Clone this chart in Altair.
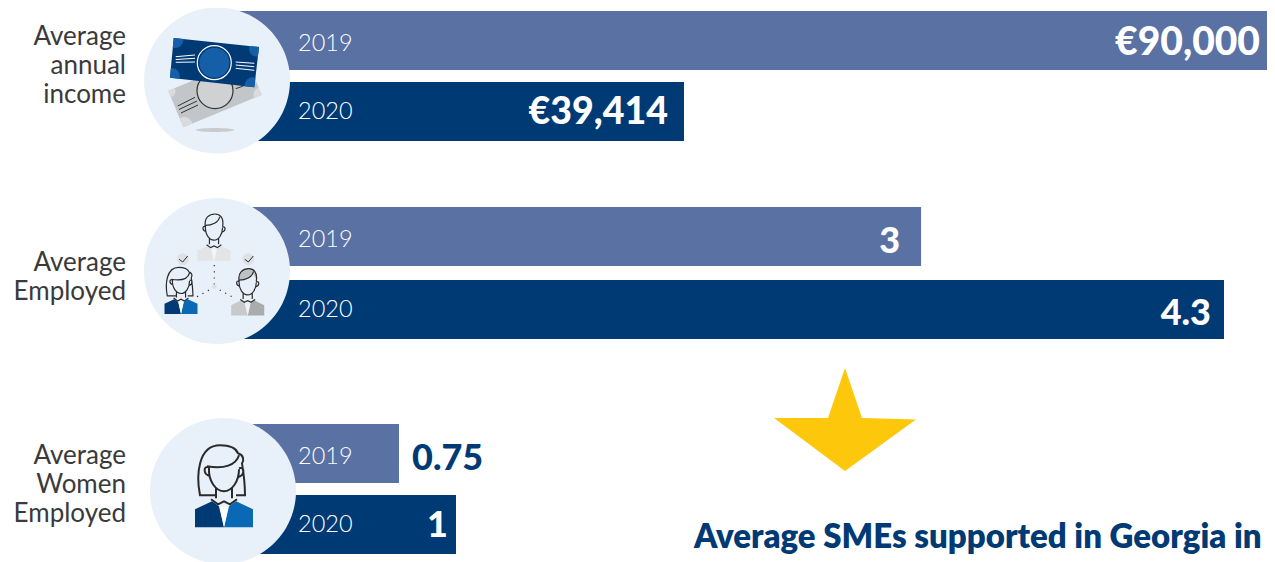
import altair as alt

FONT = "Lato"
NAVY = "#003a75"
SLATE = "#5a71a3"
INK = "#3a3a3a"
DARK = "#2b2b2b"
BLUE = "#0a69b5"

# ---- data
years = ["2019", "2020"]
income_values = [90000, 39414]
income_labels = ["€90,000", "€39,414"]
employed_values = [3, 4.3]
employed_labels = ["3", "4.3"]
women_values = [0.75, 1]
women_labels = ["0.75", "1"]
group_names = [["Average", "annual", "income"], ["Average", "Employed"], ["Average", "Women", "Employed"]]
caption = "Average SMEs supported in Georgia in"

# ---- layout of each group (pixels inside the chart)
GROUPS = [
    dict(values=income_values, labels=income_labels, dom=90000, xr=[215.5, 1267], yr=[3, 133],
         pad=12 / 71, dx=[-15, -16], dy=[2, 1], align=["right", "right"], size=[39, 37.5], col=["white", "white"]),
    dict(values=employed_values, labels=employed_labels, dom=4.3, xr=[214, 1216], yr=[199, 331],
         pad=14 / 73, dx=[-21, -13], dy=[5, 4], align=["right", "right"], size=[36, 36], col=["white", "white"]),
    dict(values=women_values, labels=women_labels, dom=1, xr=[220, 448], yr=[416, 546],
         pad=12 / 71, dx=[13, -8], dy=[5, 1], align=["left", "right"], size=[36, 36], col=[NAVY, "white"]),
]
YEAR_DY = [3, 0]


def group_layer(g):
    xs = alt.Scale(domain=[0, g["dom"]], range=g["xr"], nice=False, zero=True)
    ys = alt.Scale(domain=years, range=g["yr"], paddingInner=g["pad"], paddingOuter=0)
    rows = [dict(year=y, value=v, label=l) for y, v, l in zip(years, g["values"], g["labels"])]
    data = alt.Data(values=rows)
    X = alt.X("value:Q", scale=xs, axis=None, stack=None)
    Y = alt.Y("year:N", scale=ys, axis=None)
    bars = alt.Chart(data).mark_bar().encode(
        x=X, y=Y,
        color=alt.Color("year:N", scale=alt.Scale(domain=years, range=[SLATE, NAVY]), legend=None),
    )
    parts = [bars]
    for i in range(2):
        one = alt.Data(values=[rows[i]])
        parts.append(
            alt.Chart(one).mark_text(
                align="left", baseline="middle", font=FONT, fontSize=23.5, fontWeight=300,
                color="white", dy=YEAR_DY[i],
            ).encode(x=alt.value(290), y=Y, text="year:N")
        )
        parts.append(
            alt.Chart(one).mark_text(
                align=g["align"][i], baseline="middle", font=FONT, fontWeight=900,
                fontSize=g["size"][i], color=g["col"][i], dx=g["dx"][i], dy=g["dy"][i],
            ).encode(x=X, y=Y, text="label:N")
        )
    return alt.layer(*parts)


# ---- decoration helpers: paths are written in picture pixels
deco = []


def add(d, fill=None, stroke=None, sw=1.4, dash=None):
    deco.append((d, fill, stroke, sw, dash))


def ellipse(cx, cy, rx, ry=None):
    ry = rx if ry is None else ry
    return f"M{cx-rx},{cy}A{rx},{ry} 0 1 0 {cx+rx},{cy}A{rx},{ry} 0 1 0 {cx-rx},{cy}Z"


def poly(*pts, close=True):
    s = "M" + "L".join(f"{x},{y}" for x, y in pts)
    return s + ("Z" if close else "")


def corner(p, a, b, r):
    def unit(q):
        dx, dy = q[0] - p[0], q[1] - p[1]
        n = (dx * dx + dy * dy) ** 0.5
        return dx / n * r, dy / n * r
    u, v = unit(a), unit(b)
    return (f"M{p[0]},{p[1]}L{p[0]+u[0]},{p[1]+u[1]}"
            f"Q{p[0]+u[0]+v[0]},{p[1]+u[1]+v[1]} {p[0]+v[0]},{p[1]+v[1]}Z")


def scaled(template, cx, t, k):
    # template is a list of path commands with relative coordinates
    out = ""
    for cmd, *pts in template:
        out += cmd + " ".join(f"{cx+x*k:.2f},{t+y*k:.2f}" for x, y in pts)
    return out


FACE = [("M", (-15, 22)), ("C", (-16, 36), (-8, 46), (0, 46)), ("C", (8, 46), (15, 36), (15, 24))]
EARS = [("M", (-15, 22)), ("C", (-21, 20), (-21, 29), (-14, 31)),
        ("M", (15, 23)), ("C", (21, 21), (21, 30), (14, 32))]
NECK = [("M", (-8, 43)), ("L", (-8, 53)), ("M", (8, 43)), ("L", (8, 53)),
        ("M", (-13, 54)), ("L", (-6, 59)), ("L", (0, 56)), ("L", (6, 59)), ("L", (13, 54))]
COAT_L = [("M", (-29, 64)), ("L", (-12, 56)), ("L", (-5, 61)), ("L", (0, 82)), ("L", (-29, 82)), ("Z",)]
COAT_R = [("M", (29, 64)), ("L", (12, 56)), ("L", (5, 61)), ("L", (0, 82)), ("L", (29, 82)), ("Z",)]
WOMAN_HAIR = [("M", (-9, 50)), ("L", (-24, 50)), ("C", (-28, 30), (-26, 0), (-4, 0)),
              ("C", (6, 0), (12, 3), (14, 8)), ("C", (20, 10), (20, 15), (18, 18)),
              ("C", (20, 30), (21, 40), (21, 50)), ("L", (12, 50)),
              ("M", (-17, 21)), ("C", (0, 24), (12, 20), (15, 10))]
MAN_HAIR = [("M", (-15, 22)), ("C", (-18, 6), (-8, 0), (2, 0)), ("C", (10, 0), (18, 6), (15, 22)),
            ("M", (-15, 20)), ("C", (-4, 20), (8, 15), (10, 5))]
MAN_HAIR_FILL = [("M", (-15, 20)), ("C", (-18, 6), (-8, 0), (2, 0)), ("C", (10, 0), (18, 6), (15, 20)),
                 ("C", (12, 14), (10, 10), (10, 5)), ("C", (8, 15), (-4, 20), (-15, 20)), ("Z",)]


def person(cx, t, k, hair, cl, cr, sw, hair_fill=None):
    add(scaled(COAT_L, cx, t, k), fill=cl)
    add(scaled(COAT_R, cx, t, k), fill=cr)
    if hair_fill:
        add(scaled(MAN_HAIR_FILL, cx, t, k), fill=hair_fill)
    add(scaled(FACE + EARS + NECK + hair, cx, t, k), stroke=DARK, sw=sw)


# circles behind icons
for c in [(217, 80.5), (217, 271), (223, 491)]:
    add(ellipse(c[0], c[1], 73), fill="#e8f0f9")

# money icon
g = [(168.3, 90.7), (183.3, 127.3), (261.7, 95), (246.7, 58.3)]
add(poly(*g), fill="#c3c6c9")
add(corner(g[0], g[1], g[3], 7), fill="#d9dbdd")
add(corner(g[1], g[0], g[2], 10), fill="#d9dbdd")
add(corner(g[2], g[1], g[3], 8), fill="#d9dbdd")
add(ellipse(215, 90.7, 18), fill="#cfd1d2", stroke="#333333", sw=1.2)
add(poly((177.7, 106), (195, 97.3), close=False) + poly((179, 109.5), (197, 101), close=False)
    + poly((181, 113), (198, 105), close=False) + poly((235.7, 88.7), (243.3, 86), close=False),
    stroke="#333333", sw=1)
b = [(173.7, 38), (259, 47), (254.3, 87.3), (170, 77.7)]
add(poly(*b), fill=NAVY)
for i in range(4):
    add(corner(b[i], b[(i + 1) % 4], b[(i + 3) % 4], 10), fill="#155fa8")
add(ellipse(214.3, 62.7, 17), fill=NAVY, stroke="white", sw=1.2)
add(ellipse(214.3, 62.7, 15), fill="#155fa8")
add(poly((175.7, 56.7), (195, 55), close=False) + poly((175.7, 59.5), (195, 58.3), close=False)
    + poly((175.7, 62.3), (195, 62), close=False) + poly((235.7, 62), (254.3, 63.3), close=False)
    + poly((235.7, 65), (254.3, 66.7), close=False) + poly((235.7, 68.3), (254.3, 70.3), close=False),
    stroke="white", sw=1)
add(ellipse(215, 130, 19, 2), fill="#c9cccf")

# network icon
add(poly((214.3, 265), (214.3, 287), close=False) + poly((214.3, 287), (193, 299), close=False)
    + poly((214.3, 287), (236, 299), close=False), stroke=DARK, sw=1.2, dash=[1.2, 5])
add(ellipse(214.3, 286.7, 2.5), fill="#dfe2e5")
for cx in (182.7, 248.3):
    add(ellipse(cx, 259.3, 6), fill="#dfe2e5")
    add(poly((cx - 3.5, 259.3), (cx, 262), (cx + 5, 256), close=False), stroke=DARK, sw=1)
K = 0.57
person(214, 214, K, MAN_HAIR, "#e3e4e5", "#e3e4e5", 1.2)
add(poly((211.5, 250), (216.5, 250), (214, 261)), fill="#f3f6fa")
person(181, 267.3, K, WOMAN_HAIR, NAVY, BLUE, 1.2)
add(poly((178.5, 302), (183.5, 302), (181, 314)), fill="white")
person(247.7, 268.7, K, MAN_HAIR, "#c8c9cb", "#a9abad", 1.2, hair_fill="#bfc2c5")
add(poly((245.2, 304), (250.2, 304), (247.7, 315.5)), fill="#eef2f7")

# large woman icon
person(224, 445.3, 1, WOMAN_HAIR, NAVY, BLUE, 2)
add(poly((219.5, 506.5), (228.5, 506.5), (224, 527.3)), fill="white")

# arrow star
add(poly((845, 368), (862, 418), (916, 419.5), (845, 471), (774, 418), (828, 418)), fill="#fdc80b")


def deco_layer(item):
    d, fill, stroke, sw, dash = item
    kw = dict(shape=d, size=4, opacity=1, clip=False)
    if fill:
        kw.update(filled=True, fill=fill)
    else:
        kw.update(filled=False)
    if stroke:
        kw.update(stroke=stroke, strokeWidth=sw)
    else:
        kw.update(strokeWidth=0)
    if dash:
        kw.update(strokeDash=dash)
    return alt.Chart(alt.Data(values=[{"i": 0}])).mark_point(**kw).encode(
        x=alt.value(-8), y=alt.value(-8)
    )


name_tops = [29, 255, 448]
names = []
for lines, top in zip(group_names, name_tops):
    for j, line in enumerate(lines):
        names.append(
            alt.Chart(alt.Data(values=[dict(name=line)])).mark_text(
                align="right", baseline="middle", font=FONT, fontSize=26, color=INK,
            ).encode(x=alt.value(118), y=alt.value(top + 29 * j), text="name:N")
        )

title_txt = alt.Chart(alt.Data(values=[dict(t=caption)])).mark_text(
    align="left", baseline="alphabetic", font=FONT, fontSize=33, fontWeight=800, color=NAVY
).encode(x=alt.value(686), y=alt.value(540), text="t:N")

chart = alt.layer(
    *[group_layer(g) for g in GROUPS],
    *[deco_layer(i) for i in deco],
    *names,
    title_txt,
).resolve_scale(x="independent", y="independent", color="independent").properties(
    width=1259, height=554, padding=0, autosize=alt.AutoSizeParams(type="none"),
    background="white",
).configure_view(stroke=None)

chart.save("out.html", embed_options={"renderer": "svg", "actions": False})
